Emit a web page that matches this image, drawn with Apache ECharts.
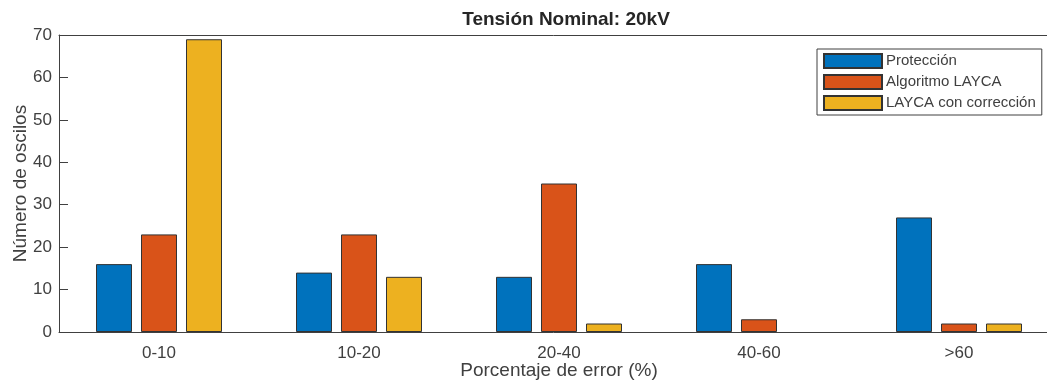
<!DOCTYPE html>
<html>
<head>
<meta charset="utf-8">
<title>Tensión Nominal: 20kV</title>
<script src="https://cdn.jsdelivr.net/npm/echarts@6/dist/echarts.min.js"></script>
<style>
	html, body {
		margin: 0;
		padding: 0;
		background: #ffffff;
	}

	#chart {
		width: 1047px;
		height: 382px;
	}
</style>
</head>
<body>
<div id="chart"></div>
<script>
	var categories = ['0-10', '10-20', '20-40', '40-60', '>60'];
	var proteccion = [16, 14, 13, 16, 27];
	var algoritmoLayca = [23, 23, 35, 3, 2];
	var laycaCorreccion = [69, 13, 2, 0, 2];
	var yTicks = [0, 10, 20, 30, 40, 50, 60, 70];

	var font = 'Liberation Sans, Arial, Helvetica, sans-serif';
	var textColor = '#404040';

	function bar(name, data, color) {
		return {
			name: name,
			type: 'bar',
			// a zero bar draws nothing in the original, so drop its edge
			data: data.map(function(v) {
				return v === 0 ? { value: v, itemStyle: { borderWidth: 0 } } : v;
			}),
			barWidth: 36,
			barGap: '25%',
			itemStyle: {
				color: color,
				borderColor: '#333333',
				borderWidth: 1
			}
		};
	}

	var myChart = echarts.init(document.getElementById('chart'));
	var option = {
		animation: false,
		textStyle: { fontFamily: font },
		title: {
			text: 'Tensión Nominal: 20kV',
			left: 561,
			textAlign: 'center',
			top: 5,
			textStyle: {
				fontFamily: font,
				fontSize: 19,
				fontWeight: 'bold',
				color: '#262626'
			}
		},
		legend: {
			orient: 'vertical',
			left: 817,
			top: 49,
			width: 226,
			padding: [4, 6, 4, 6],
			itemGap: 5,
			itemWidth: 58,
			itemHeight: 14,
			icon: 'rect',
			backgroundColor: '#ffffff',
			borderColor: '#404040',
			borderWidth: 1,
			textStyle: {
				fontFamily: font,
				fontSize: 15,
				lineHeight: 15,
				color: textColor,
				padding: [0, 0, 0, -1]
			},
			data: ['Protección', 'Algoritmo LAYCA', 'LAYCA con corrección']
		},
		// plot box runs past the right edge of the picture, as in the original
		grid: {
			left: 59,
			top: 35,
			width: 1000,
			height: 297,
			outerBoundsMode: 'none',
			containLabel: false
		},
		xAxis: [{
			type: 'category',
			data: categories,
			name: 'Porcentaje de error (%)',
			nameLocation: 'middle',
			nameGap: 29,
			nameMoveOverlap: false,
			nameTextStyle: { fontFamily: font, fontSize: 19, color: textColor },
			axisLine: { lineStyle: { color: '#404040', width: 1 } },
			axisTick: { inside: true, length: 9, alignWithLabel: true, lineStyle: { color: '#404040' } },
			axisLabel: { fontFamily: font, fontSize: 17, color: textColor, margin: 13 }
		}, {
			type: 'category',
			data: categories,
			position: 'top',
			axisLine: { lineStyle: { color: '#404040', width: 1 } },
			axisTick: { inside: true, length: 9, alignWithLabel: true, lineStyle: { color: '#404040' } },
			axisLabel: { show: false }
		}],
		yAxis: {
			type: 'value',
			min: yTicks[0],
			max: yTicks[yTicks.length - 1],
			interval: 10,
			name: 'Número de oscilos',
			nameLocation: 'middle',
			nameGap: 29,
			nameMoveOverlap: false,
			nameTextStyle: { fontFamily: font, fontSize: 19, color: textColor },
			splitLine: { show: false },
			axisLine: { show: true, lineStyle: { color: '#404040', width: 1 } },
			axisTick: { show: true, inside: true, length: 9, lineStyle: { color: '#404040' } },
			axisLabel: { fontFamily: font, fontSize: 17, color: textColor, margin: 7 }
		},
		series: [
			bar('Protección', proteccion, '#0072BD'),
			bar('Algoritmo LAYCA', algoritmoLayca, '#D95319'),
			bar('LAYCA con corrección', laycaCorreccion, '#EDB120')
		]
	};
	myChart.setOption(option);
</script>
</body>
</html>
